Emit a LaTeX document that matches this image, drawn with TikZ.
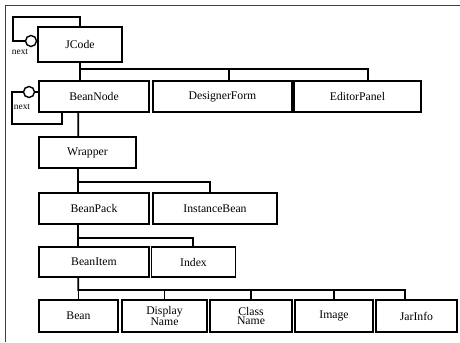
\documentclass[tikz,border=0pt]{standalone}
\usepackage{fontspec}
\setmainfont{Liberation Serif}
\usetikzlibrary{positioning}

\begin{document}
\begin{tikzpicture}[x=0.03cm, y=-0.03cm,
      box/.style={rectangle, draw, line width=1.2pt, minimum height=0.93cm, inner sep=1pt, font=\fontsize{10}{8.5}\selectfont, align=center},
      ring/.style={circle, draw, line width=1.2pt, minimum size=0.33cm, inner sep=0pt},
      wire/.style={line width=1.5pt},
      frame/.style={line width=0.8pt, black!75}]
      \useasboundingbox (0,0) rectangle (460,342);

      % Frame
      \draw[frame] (460,5) -- (5,5) -- (5,342);

      % Blocks
      \node[box, minimum width=2.52cm, minimum height=1.05cm] (jcode) at (80,44.5) {JCode};
      \node[box, minimum width=3.3cm] (beannode) at (94,96.5) {BeanNode};
      \node[box, minimum width=4.17cm] (designerform) at (222.5,96.5) {DesignerForm};
      \node[box, minimum width=3.81cm] (editorpanel) at (357.5,96.5) {EditorPanel};
      \node[box, minimum width=2.91cm] (wrapper) at (87.5,152.5) {Wrapper};
      \node[box, minimum width=3.3cm] (beanpack) at (94,208.5) {BeanPack};
      \node[box, minimum width=3.72cm] (instancebean) at (215,208.5) {InstanceBean};
      \node[box, minimum width=3.3cm, minimum height=0.9cm] (beanitem) at (94,262) {BeanItem};
      \node[box, minimum width=2.52cm, minimum height=0.9cm] (index) at (193.5,262) {Index};
      \node[box, minimum width=2.37cm, minimum height=0.96cm] (bean) at (78.5,316) {Bean};
      \node[box, minimum width=2.55cm, minimum height=0.96cm] (displayname) at (164.5,316) {Display\\Name};
      \node[box, minimum width=2.46cm, minimum height=0.96cm] (classname) at (251,316) {Class\\Name};
      \node[box, minimum width=2.34cm, minimum height=0.96cm] (image) at (334,316) {Image};
      \node[box, minimum width=2.43cm, minimum height=0.96cm] (jarinfo) at (416.5,316) {JarInfo};

      % next links
      \node[ring] (jnext) at (31,41) {};
      \node[ring] (bnext) at (29,92) {};
      \draw[wire] (jnext.east) -- (jcode.west |- jnext.east);
      \draw[wire] (bnext.east) -- (beannode.west |- bnext.east);
      \draw[wire] (jcode.north) |- (13,17) |- (jnext.west);
      \draw[wire] (bnext.west) -| (12,124) -| ([xshift=0.72cm]beannode.south west);
      \node[font=\fontsize{8}{8}\selectfont, inner sep=0pt] (jlabel) at (20,52) {next};
      \node[font=\fontsize{8}{8}\selectfont, inner sep=0pt] (blabel) at (22,107) {next};

      % Tree connectors
      \coordinate (busA) at (368,69);
      \coordinate (busB) at (210,182);
      \coordinate (busC) at (193,238);
      \coordinate (busD) at (405,290);

      \draw[wire] (jcode.south) |- (busA) -- ([xshift=0.315cm]editorpanel.north);
      \draw[wire] (beannode.north -| jcode.south) -- (jcode.south |- busA);
      \draw[wire] ([xshift=0.2cm]designerform.north) -- ++(0,-12);

      \draw[wire] ([xshift=1.2cm]beannode.south west) -- ([xshift=1.2cm]wrapper.north west);

      \draw[wire] ([xshift=1.2cm]wrapper.south west) |- (busB) -- (instancebean.north -| busB);
      \draw[wire] ([xshift=1.2cm]beanpack.north west) -- ++(0,-11);

      \draw[wire] ([xshift=1.2cm]beanpack.south west) |- (busC) -- (index.north -| busC);
      \draw[wire] ([xshift=1.2cm]beanitem.north west) -- ++(0,-9);

      \draw[wire] ([xshift=1.2cm]beanitem.south west) |- (busD) -- ([xshift=-0.345cm]jarinfo.north);
      \foreach \n in {bean, displayname, classname, image}
        \draw[wire] (\n.north) -- (\n.north |- busD);
    \end{tikzpicture}
\end{document}
